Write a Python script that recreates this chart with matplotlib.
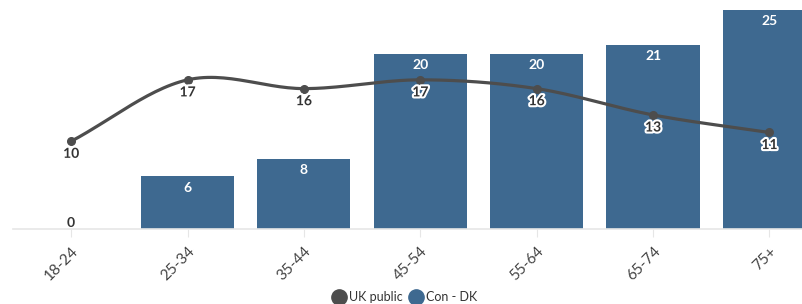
import numpy as np
import matplotlib.pyplot as plt
import matplotlib.patheffects as pe
from matplotlib.lines import Line2D

# data
age_groups = ["18-24", "25-34", "35-44", "45-54", "55-64", "65-74", "75+"]
uk_public = [10, 17, 16, 17, 16, 13, 11]
con_dk = [0, 6, 8, 20, 20, 21, 25]

bar_color = "#3e6990"
line_color = "#4d4d4d"
text_color = "#333333"

plt.rcParams["font.family"] = ["Lato", "DejaVu Sans"]


def smooth(xs, ys, n=30):
    # cubic hermite curve through the points (for drawing only)
    xs = np.asarray(xs, float)
    ys = np.asarray(ys, float)
    out_x, out_y = [], []
    m = np.zeros_like(ys)
    m[1:-1] = (ys[2:] - ys[:-2]) / (xs[2:] - xs[:-2])
    m[0] = (ys[1] - ys[0]) / (xs[1] - xs[0])
    m[-1] = (ys[-1] - ys[-2]) / (xs[-1] - xs[-2])
    for i in range(len(xs) - 1):
        h = xs[i + 1] - xs[i]
        t = np.linspace(0, 1, n)
        h00 = 2 * t**3 - 3 * t**2 + 1
        h10 = t**3 - 2 * t**2 + t
        h01 = -2 * t**3 + 3 * t**2
        h11 = t**3 - t**2
        out_x.extend(xs[i] + t * h)
        out_y.extend(h00 * ys[i] + h10 * h * m[i] + h01 * ys[i + 1] + h11 * h * m[i + 1])
    return np.array(out_x), np.array(out_y)


fig = plt.figure(figsize=(8.02, 3.04), dpi=100)
ax = fig.add_axes([13 / 802, 75 / 304, 789 / 802, 229 / 304])

x = np.arange(len(age_groups))
ax.bar(x, con_dk, width=0.8, color=bar_color, zorder=2)

sx, sy = smooth(x, uk_public)
ax.plot(sx, sy, color=line_color, lw=2.3, zorder=3, solid_capstyle="round")
ax.plot(x, uk_public, "o", color=line_color, ms=5.5, zorder=4)

for xi, v in zip(x, con_dk):
    if v == 0:
        ax.text(xi, v + 0.05, str(v), ha="center", va="bottom", fontsize=10,
                fontweight="bold", color=text_color, zorder=5)
    else:
        ax.text(xi, v - 0.6, str(v), ha="center", va="top", fontsize=10,
                fontweight="bold", color="white", zorder=5)

for xi, v in zip(x, uk_public):
    ax.text(xi, v - 0.75, str(v), ha="center", va="top", fontsize=10,
            fontweight="bold", color=text_color, zorder=5,
            path_effects=[pe.withStroke(linewidth=3, foreground="white")])

ax.set_xlim(-0.5, 6.28)
ax.set_ylim(0, 26.1)
for s in ["top", "right", "left"]:
    ax.spines[s].set_visible(False)
ax.spines["bottom"].set_color("#e6e6e6")
ax.spines["bottom"].set_linewidth(1.2)
ax.set_yticks([])
ax.set_xticks(x)
ax.set_xticklabels(age_groups, rotation=45, ha="right", rotation_mode="anchor",
                   fontsize=11, color="#444444")
ax.tick_params(axis="x", length=6, color="#e6e6e6", pad=5)

handles = [
    Line2D([], [], marker="o", ls="none", color=line_color, ms=11),
    Line2D([], [], marker="o", ls="none", color=bar_color, ms=11),
]
fig.legend(handles, ["UK public", "Con - DK"], loc="center", bbox_to_anchor=(0.505, 7 / 304),
           ncol=2, frameon=False, fontsize=9, handletextpad=0.3, columnspacing=0.5,
           labelcolor="#333333", handlelength=1.0)

fig.savefig("out.png", dpi=100)
